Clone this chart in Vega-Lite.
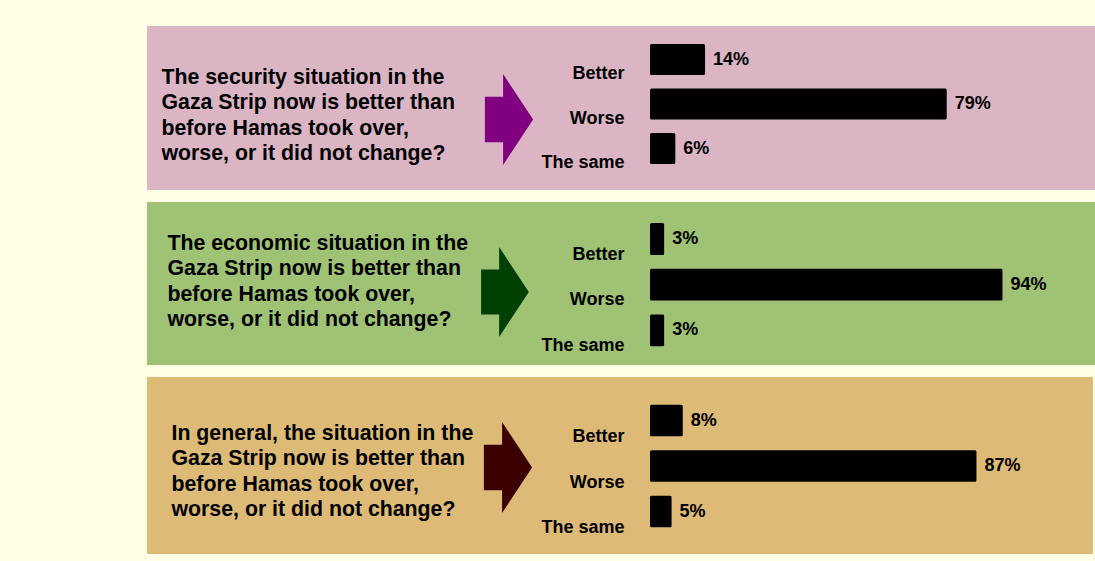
{
  "$schema": "https://vega.github.io/schema/vega-lite/v6.json",
  "background": "#FFFFE5",
  "padding": {"left": 147, "top": 26, "right": 0, "bottom": 7},
  "autosize": {"type": "pad"},
  "config": {"font": "Liberation Sans", "view": {"stroke": null}},
  "data": {"values": [
    {"topic": "security", "answer": "Better", "share": 0.14},
    {"topic": "security", "answer": "Worse", "share": 0.79},
    {"topic": "security", "answer": "The same", "share": 0.06},
    {"topic": "economic", "answer": "Better", "share": 0.03},
    {"topic": "economic", "answer": "Worse", "share": 0.94},
    {"topic": "economic", "answer": "The same", "share": 0.03},
    {"topic": "general", "answer": "Better", "share": 0.08},
    {"topic": "general", "answer": "Worse", "share": 0.87},
    {"topic": "general", "answer": "The same", "share": 0.05}
  ]},
  "spacing": 12,
  "vconcat": [
    {
      "width": 948, "height": 164,
      "view": {"fill": "#DBB5C4", "stroke": null},
      "transform": [{"filter": "datum.topic === 'security'"}],
      "encoding": {
        "y": {"field": "answer", "type": "nominal", "sort": ["Better", "Worse", "The same"],
          "scale": {"range": [11.25, 144.75], "paddingInner": 0.37, "paddingOuter": 0.185},
          "axis": {"title": ["The security situation in the", "Gaza Strip now is better than", "before Hamas took over,", "worse, or it did not change?"],
            "orient": "left", "offset": -477, "domain": false, "ticks": false, "grid": false, "labelPadding": 0,
            "labelOffset": 14.5, "labelFontSize": 18, "labelFontWeight": "bold", "labelColor": "#000", "labelAlign": "right", "labelBaseline": "middle",
            "titleAngle": 0, "titleAlign": "left", "titleBaseline": "middle", "titleX": -463, "titleY": 51,
            "titleFontSize": 21.3, "titleFontWeight": "bold", "titleColor": "#000", "titleLineHeight": 25.5}
        }
      },
      "layer": [
        {"mark": {"type": "bar", "color": "#000", "stroke": "#000", "strokeWidth": 3, "strokeJoin": "round"},
         "encoding": {"x": {"field": "share", "type": "quantitative", "scale": {"domain": [0, 1], "range": [504.5, 876.3]}, "axis": null}}},
        {"mark": {"type": "text", "align": "left", "baseline": "middle", "dx": 9.5, "fontSize": 18, "fontWeight": "bold", "color": "#000"},
         "encoding": {"x": {"field": "share", "type": "quantitative"}, "text": {"field": "share", "format": ".0%"}}},
        {"transform": [{"filter": "datum.answer === 'Worse'"}],
         "mark": {"type": "point", "shape": "M-0.53,-0.5L-0.13,-0.5L-0.13,-1L0.53,0L-0.13,1L-0.13,0.5L-0.53,0.5Z", "size": 8281, "filled": true, "opacity": 1, "color": "#800080", "xOffset": -112, "yOffset": 15.5},
         "encoding": {}}
      ]
    },
    {
      "width": 948, "height": 163,
      "view": {"fill": "#9FC274", "stroke": null},
      "transform": [{"filter": "datum.topic === 'economic'"}],
      "encoding": {
        "y": {"field": "answer", "type": "nominal", "sort": ["Better", "Worse", "The same"],
          "scale": {"range": [14.15, 151.25], "paddingInner": 0.37, "paddingOuter": 0.185},
          "axis": {"title": ["The economic situation in the", "Gaza Strip now is better than", "before Hamas took over,", "worse, or it did not change?"],
            "orient": "left", "offset": -477, "domain": false, "ticks": false, "grid": false, "labelPadding": 0,
            "labelOffset": 15.5, "labelFontSize": 18, "labelFontWeight": "bold", "labelColor": "#000", "labelAlign": "right", "labelBaseline": "middle",
            "titleAngle": 0, "titleAlign": "left", "titleBaseline": "middle", "titleX": -457, "titleY": 41,
            "titleFontSize": 21.3, "titleFontWeight": "bold", "titleColor": "#000", "titleLineHeight": 25.5}
        }
      },
      "layer": [
        {"mark": {"type": "bar", "color": "#000", "stroke": "#000", "strokeWidth": 3, "strokeJoin": "round"},
         "encoding": {"x": {"field": "share", "type": "quantitative", "scale": {"domain": [0, 1], "range": [504.5, 876.3]}, "axis": null}}},
        {"mark": {"type": "text", "align": "left", "baseline": "middle", "dx": 9.5, "fontSize": 18, "fontWeight": "bold", "color": "#000"},
         "encoding": {"x": {"field": "share", "type": "quantitative"}, "text": {"field": "share", "format": ".0%"}}},
        {"transform": [{"filter": "datum.answer === 'Worse'"}],
         "mark": {"type": "point", "shape": "M-0.53,-0.5L-0.13,-0.5L-0.13,-1L0.53,0L-0.13,1L-0.13,0.5L-0.53,0.5Z", "size": 8100, "filled": true, "opacity": 1, "color": "#004000", "xOffset": -116, "yOffset": 7.3},
         "encoding": {}}
      ]
    },
    {
      "width": 946, "height": 177,
      "view": {"fill": "#DDBA75", "stroke": null},
      "transform": [{"filter": "datum.topic === 'general'"}],
      "encoding": {
        "y": {"field": "answer", "type": "nominal", "sort": ["Better", "Worse", "The same"],
          "scale": {"range": [20.75, 157.25], "paddingInner": 0.37, "paddingOuter": 0.185},
          "axis": {"title": ["In general, the situation in the", "Gaza Strip now is better than", "before Hamas took over,", "worse, or it did not change?"],
            "orient": "left", "offset": -477, "domain": false, "ticks": false, "grid": false, "labelPadding": 0,
            "labelOffset": 16.5, "labelFontSize": 18, "labelFontWeight": "bold", "labelColor": "#000", "labelAlign": "right", "labelBaseline": "middle",
            "titleAngle": 0, "titleAlign": "left", "titleBaseline": "middle", "titleX": -453, "titleY": 56,
            "titleFontSize": 21.3, "titleFontWeight": "bold", "titleColor": "#000", "titleLineHeight": 25.5}
        }
      },
      "layer": [
        {"mark": {"type": "bar", "color": "#000", "stroke": "#000", "strokeWidth": 3, "strokeJoin": "round"},
         "encoding": {"x": {"field": "share", "type": "quantitative", "scale": {"domain": [0, 1], "range": [504.5, 876.3]}, "axis": null}}},
        {"mark": {"type": "text", "align": "left", "baseline": "middle", "dx": 9.5, "fontSize": 18, "fontWeight": "bold", "color": "#000"},
         "encoding": {"x": {"field": "share", "type": "quantitative"}, "text": {"field": "share", "format": ".0%"}}},
        {"transform": [{"filter": "datum.answer === 'Worse'"}],
         "mark": {"type": "point", "shape": "M-0.53,-0.5L-0.13,-0.5L-0.13,-1L0.53,0L-0.13,1L-0.13,0.5L-0.53,0.5Z", "size": 8281, "filled": true, "opacity": 1, "color": "#3C0000", "xOffset": -112, "yOffset": 1.5},
         "encoding": {}}
      ]
    }
  ]
}
